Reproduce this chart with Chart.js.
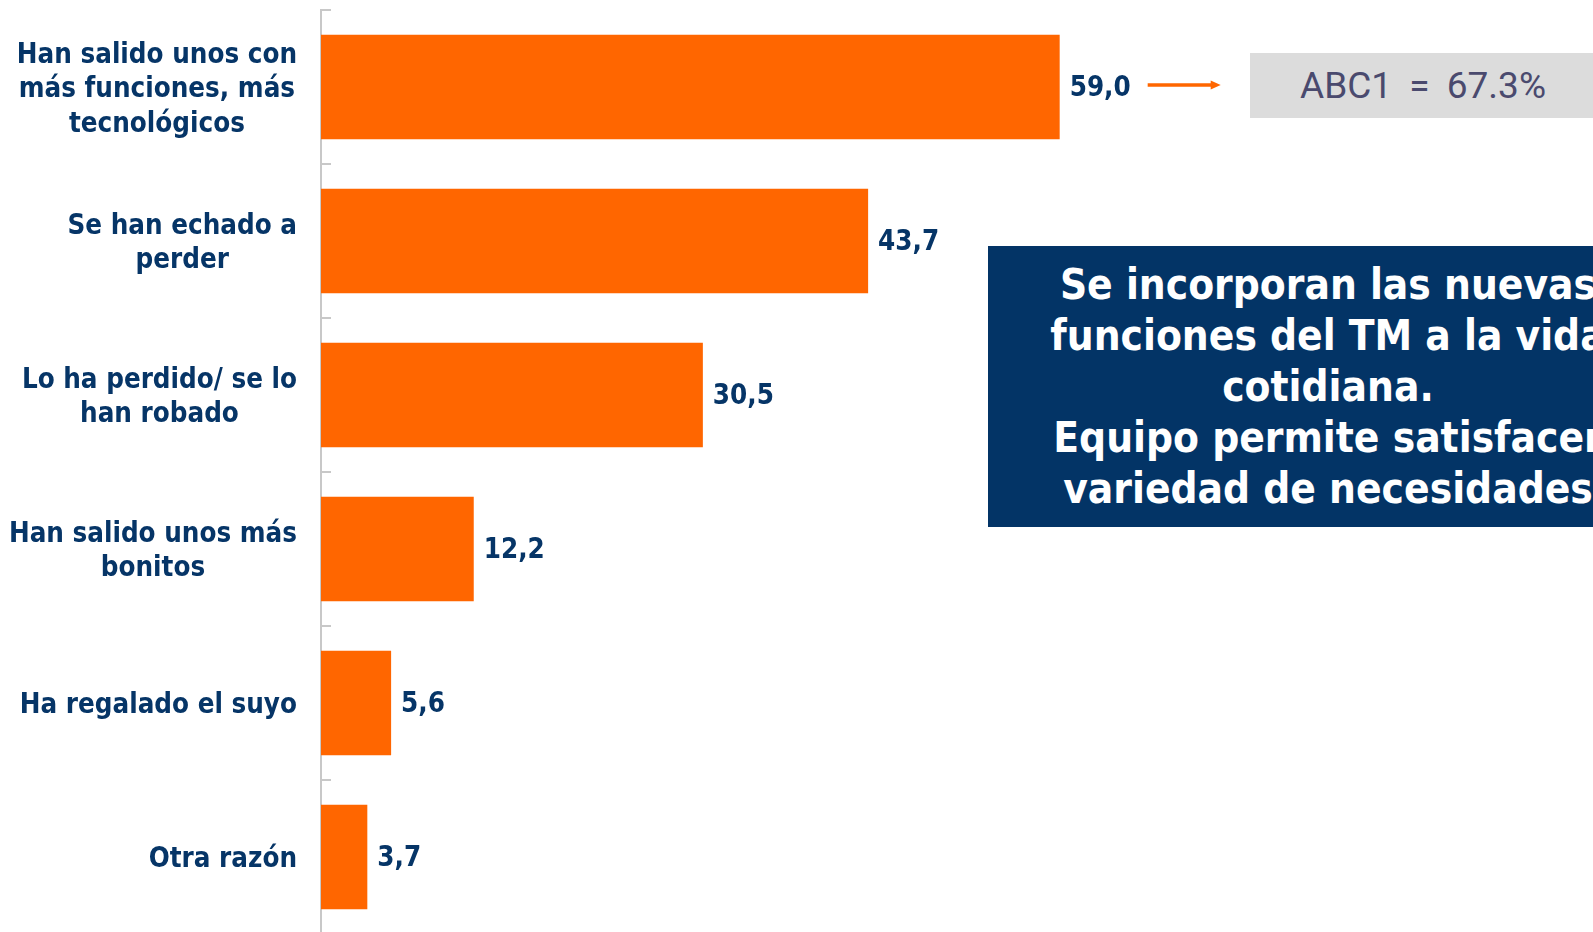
<!DOCTYPE html>
<html>
<head>
<meta charset="utf-8">
<script src="https://cdn.jsdelivr.net/npm/chart.js@4"></script>
<style>
  html, body { margin:0; padding:0; background:#fff; overflow:hidden; }
  #wrap { position:relative; width:1593px; height:932px; }
  #abc { position:absolute; left:1250px; top:53px; width:346px; height:65px; background:#dcdcdc;
         color:#4a4a6e; font:37px "Liberation Sans Narrow", "Roboto", sans-serif; word-spacing:8px;
         display:flex; align-items:center; justify-content:center; white-space:pre; }
  #note { position:absolute; left:988px; top:246px; width:680px; height:281px; background:#033466;
          color:#fff; font:bold 42px "DejaVu Sans Condensed", "DejaVu Sans", sans-serif; line-height:51px;
          text-align:center; display:flex; align-items:center; justify-content:center; }
</style>
</head>
<body>
<div id="wrap">
  <canvas id="chart" width="1593" height="936"></canvas>
  <div id="abc">ABC1 = 67.3%</div>
  <div id="note"><div>Se incorporan las nuevas<br>funciones del TM a la vida<br>cotidiana.<br>Equipo permite satisfacer<br>variedad de necesidades</div></div>
</div>
<script>
// ===== Data =====
const categories = [
    ['Han salido unos con', 'más funciones, más', 'tecnológicos'],
    ['Se han echado a', 'perder'],
    ['Lo ha perdido/ se lo', 'han robado'],
    ['Han salido unos más', 'bonitos'],
    ['Ha regalado el suyo'],
    ['Otra razón']
];
const values = [59.0, 43.7, 30.5, 12.2, 5.6, 3.7];

const ORANGE = '#ff6600';
const NAVY = '#063567';
const LABEL_FONT = 'bold 27.5px "DejaVu Sans Condensed", "DejaVu Sans", sans-serif';

// ===== Labels, ticks, arrow =====
const decor = {
    id: 'decor',
    afterDatasetsDraw(chart) {
        const {ctx, chartArea, scales: {y}} = chart;
        const meta = chart.getDatasetMeta(0);
        const band = y.getPixelForValue(1) - y.getPixelForValue(0);
        ctx.save();

        // small tick marks between categories
        ctx.strokeStyle = '#c8c8c8';
        ctx.lineWidth = 2;
        for (let i = 0; i <= categories.length; i++) {
            let py = Math.round(y.getPixelForValue(i) - band / 2);
            ctx.beginPath();
            ctx.moveTo(chartArea.left, py);
            ctx.lineTo(chartArea.left + 10, py);
            ctx.stroke();
        }

        // category labels: block right aligned, lines centred
        ctx.font = LABEL_FONT;
        ctx.fillStyle = NAVY;
        ctx.textAlign = 'center';
        ctx.textBaseline = 'middle';
        categories.forEach((lines, i) => {
            let w = Math.max(...lines.map(l => ctx.measureText(l).width));
            let cx = chartArea.left - 24 - w / 2;
            let cy = y.getPixelForValue(i) + 3;
            lines.forEach((l, j) => ctx.fillText(l, cx, cy + (j - (lines.length - 1) / 2) * 34.5));
        });

        // value labels
        ctx.textAlign = 'left';
        meta.data.forEach((bar, i) => {
            ctx.fillText(values[i].toFixed(1).replace('.', ','), bar.x + 10, bar.y + 2);
        });

        // arrow after first value
        let b = meta.data[0];
        let x0 = b.x + 88, x1 = b.x + 161, ay = b.y - 2;
        ctx.strokeStyle = ORANGE;
        ctx.fillStyle = ORANGE;
        ctx.lineWidth = 3.5;
        ctx.beginPath();
        ctx.moveTo(x0, ay);
        ctx.lineTo(x1 - 8, ay);
        ctx.stroke();
        ctx.beginPath();
        ctx.moveTo(x1, ay);
        ctx.lineTo(x1 - 10, ay - 4.5);
        ctx.lineTo(x1 - 10, ay + 4.5);
        ctx.closePath();
        ctx.fill();

        ctx.restore();
    }
};

// ===== Chart =====
new Chart(document.getElementById('chart'), {
    type: 'bar',
    data: {
        labels: categories,
        datasets: [{
            data: values,
            backgroundColor: ORANGE,
            barPercentage: 0.68,
            categoryPercentage: 1
        }]
    },
    options: {
        indexAxis: 'y',
        responsive: false,
        animation: false,
        layout: { padding: { top: 10, bottom: 2, right: 20 } },
        plugins: { legend: { display: false }, tooltip: { enabled: false } },
        scales: {
            x: { display: false, min: 0, max: 100 },
            y: {
                ticks: { display: false },
                grid: { display: false },
                border: { display: true, color: '#c8c8c8', width: 2 },
                afterFit: s => { s.width = 321; }
            }
        }
    },
    plugins: [decor]
});
</script>
</body>
</html>
